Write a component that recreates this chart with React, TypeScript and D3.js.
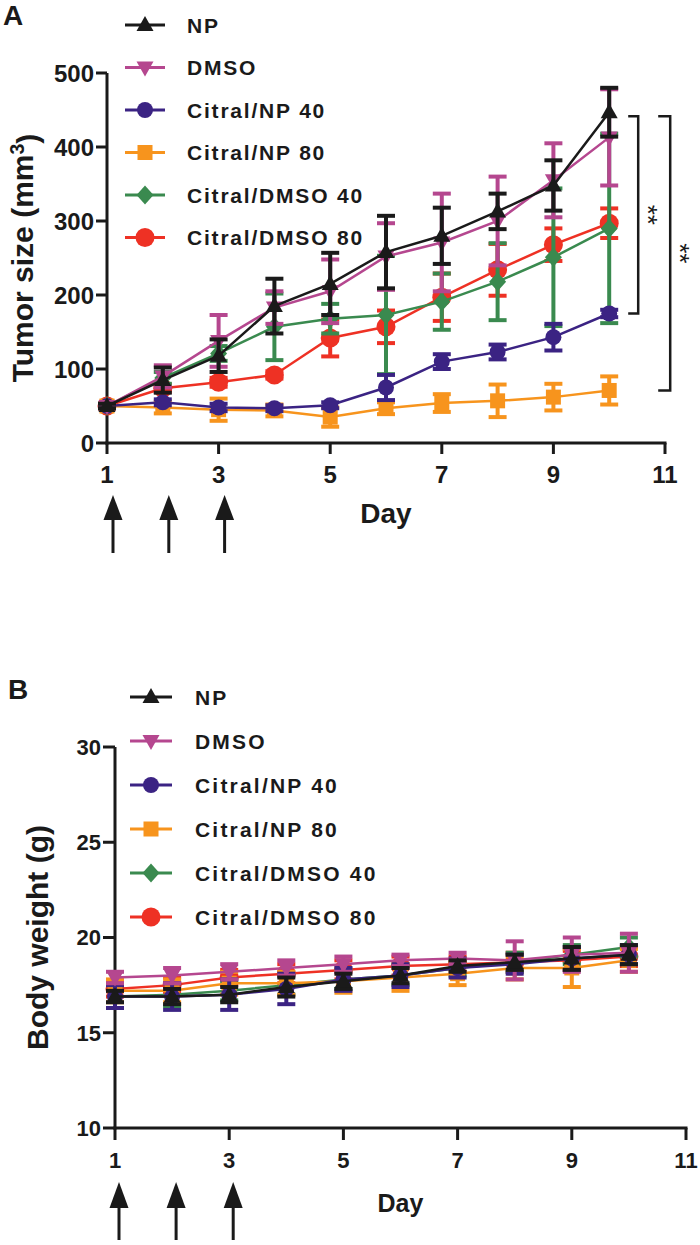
import React from 'react';
import * as d3 from 'd3';

// ---------- data ----------
const days = [1, 2, 3, 4, 5, 6, 7, 8, 9, 10];
const seriesNames = ['NP', 'DMSO', 'Citral/NP 40', 'Citral/NP 80', 'Citral/DMSO 40', 'Citral/DMSO 80'];
const seriesColors = ['#1a1a1a', '#b5478f', '#3b2383', '#f7941d', '#3a8a4f', '#ee3124'];
const seriesShapes = ['up', 'down', 'circle', 'square', 'diamond', 'circleL'];

// Panel A: tumor size (mm3)
const tumorNP = [50, 85, 118, 185, 215, 258, 280, 313, 348, 447];
const tumorNPErr = [3, 17, 22, 37, 42, 49, 38, 24, 34, 33];
const tumorDMSO = [50, 90, 138, 183, 205, 252, 271, 300, 355, 413];
const tumorDMSOErr = [3, 15, 35, 22, 43, 45, 66, 60, 50, 65];
const tumorCNP40 = [50, 55, 48, 47, 51, 75, 110, 123, 143, 175];
const tumorCNP40Err = [3, 4, 5, 4, 4, 17, 10, 10, 18, 5];
const tumorCNP80 = [50, 48, 45, 44, 35, 47, 54, 57, 62, 71];
const tumorCNP80Err = [3, 8, 15, 8, 13, 8, 12, 22, 18, 19];
const tumorCD40 = [50, 88, 121, 157, 168, 173, 191, 218, 251, 290];
const tumorCD40Err = [3, 8, 10, 45, 20, 80, 38, 52, 93, 128];
const tumorCD80 = [50, 74, 82, 92, 142, 157, 197, 234, 268, 297];
const tumorCD80Err = [3, 5, 6, 5, 25, 22, 32, 35, 22, 20];

// Panel B: body weight (g)
const weightNP = [16.9, 16.9, 17.0, 17.4, 17.7, 18.0, 18.5, 18.7, 18.9, 19.1];
const weightNPErr = [0.3, 0.4, 0.4, 0.5, 0.4, 0.4, 0.3, 0.4, 0.6, 0.5];
const weightDMSO = [17.9, 18.0, 18.2, 18.4, 18.6, 18.8, 18.9, 18.8, 19.1, 19.2];
const weightDMSOErr = [0.3, 0.4, 0.4, 0.4, 0.4, 0.3, 0.3, 1.0, 0.9, 1.0];
const weightCNP40 = [16.9, 16.9, 17.0, 17.3, 17.8, 18.0, 18.4, 18.6, 18.9, 19.1];
const weightCNP40Err = [0.6, 0.7, 0.8, 0.8, 0.6, 0.6, 0.5, 0.5, 0.6, 0.5];
const weightCNP80 = [17.2, 17.2, 17.6, 17.6, 17.7, 17.9, 18.1, 18.4, 18.4, 18.8];
const weightCNP80Err = [0.6, 0.6, 0.6, 0.6, 0.6, 0.7, 0.6, 0.6, 1.0, 0.6];
const weightCD40 = [16.9, 17.0, 17.2, 17.5, 17.8, 18.0, 18.4, 18.7, 19.1, 19.5];
const weightCD40Err = [0.6, 0.6, 0.5, 0.5, 0.5, 0.5, 0.4, 0.5, 0.5, 0.5];
const weightCD80 = [17.3, 17.5, 17.9, 18.1, 18.3, 18.5, 18.6, 18.7, 18.8, 19.0];
const weightCD80Err = [0.4, 0.4, 0.4, 0.5, 0.5, 0.5, 0.4, 0.5, 0.5, 0.5];

const xTicks = [1, 3, 5, 7, 9, 11];
const tumorTicks = [0, 100, 200, 300, 400, 500];
const weightTicks = [10, 15, 20, 25, 30];
const injectionDays = [1, 2, 3];

const FONT = '"Liberation Sans", Arial, Helvetica, sans-serif';

type Series = { name: string; color: string; shape: string; values: number[]; errs: number[] };

function buildSeries(vals: number[][], errs: number[][]): Series[] {
  return seriesNames.map((n, i) => ({ name: n, color: seriesColors[i], shape: seriesShapes[i], values: vals[i], errs: errs[i] }));
}

const tumorSeries = buildSeries(
  [tumorNP, tumorDMSO, tumorCNP40, tumorCNP80, tumorCD40, tumorCD80],
  [tumorNPErr, tumorDMSOErr, tumorCNP40Err, tumorCNP80Err, tumorCD40Err, tumorCD80Err]
);
const weightSeries = buildSeries(
  [weightNP, weightDMSO, weightCNP40, weightCNP80, weightCD40, weightCD80],
  [weightNPErr, weightDMSOErr, weightCNP40Err, weightCNP80Err, weightCD40Err, weightCD80Err]
);

function Marker({ shape, x, y, color }: { shape: string; x: number; y: number; color: string }) {
  switch (shape) {
    case 'up':
      return <path d={`M${x},${y - 9}L${x + 8.5},${y + 6}L${x - 8.5},${y + 6}Z`} fill={color} />;
    case 'down':
      return <path d={`M${x},${y + 9}L${x + 8.5},${y - 6}L${x - 8.5},${y - 6}Z`} fill={color} />;
    case 'circle':
      return <circle cx={x} cy={y} r={8} fill={color} />;
    case 'square':
      return <rect x={x - 7.5} y={y - 7.5} width={15} height={15} fill={color} />;
    case 'diamond':
      return <path d={`M${x},${y - 9.5}L${x + 8.5},${y}L${x},${y + 9.5}L${x - 8.5},${y}Z`} fill={color} />;
    default:
      return <circle cx={x} cy={y} r={9.5} fill={color} />;
  }
}

type PanelProps = {
  series: Series[];
  xRange: [number, number];
  yDomain: [number, number];
  yRange: [number, number];
  yTicks: number[];
  tickFont: number;
  tickLen: number;
  yTitle: React.ReactNode;
  yTitleX: number;
  yTitleFont: number;
  dayFont: number;
  dayBaseline: number;
  legendTop: number;
  legendStep: number;
  legendLineX: [number, number];
  legendTextX: number;
  legendSpacing: number;
  panelLabel: string;
  panelLabelX: number;
  panelLabelY: number;
  arrowOffset: number;
  arrowTop: number;
  arrowHeadH: number;
  arrowBottom: number;
  brackets?: boolean;
};

function Panel(p: PanelProps) {
  const x = d3.scaleLinear().domain([1, 11]).range(p.xRange);
  const y = d3.scaleLinear().domain(p.yDomain).range(p.yRange);
  const line = d3
    .line<number>()
    .x((_, i) => x(days[i]))
    .y((v) => y(v));
  const capW = 9;
  const order = [...p.series].reverse();
  const axisY = y(p.yDomain[0]);
  const axisX = x(1);
  const yMid = (p.yRange[0] + p.yRange[1]) / 2;

  return (
    <g fontFamily={FONT} fontWeight="bold" fill="#1a1a1a">
      <text x={p.panelLabelX} y={p.panelLabelY} fontSize={28}>{p.panelLabel}</text>

      {/* axes */}
      <line x1={axisX} x2={axisX} y1={p.yRange[0] + 1.5} y2={p.yRange[1]} stroke="#1a1a1a" strokeWidth={3} />
      <line x1={axisX - 1.5} x2={x(11) + 1.5} y1={axisY} y2={axisY} stroke="#1a1a1a" strokeWidth={3} />
      {p.yTicks.map((t) => (
        <g key={'yt' + t}>
          <line x1={axisX - p.tickLen} x2={axisX} y1={y(t)} y2={y(t)} stroke="#1a1a1a" strokeWidth={3} />
          <text x={axisX - p.tickLen - 2} y={y(t)} dy="0.36em" textAnchor="end" fontSize={p.tickFont}>{t}</text>
        </g>
      ))}
      {xTicks.map((t) => (
        <g key={'xt' + t}>
          <line x1={x(t)} x2={x(t)} y1={axisY} y2={axisY + p.tickLen} stroke="#1a1a1a" strokeWidth={3} />
          <text x={x(t)} y={axisY + 40} textAnchor="middle" fontSize={p.tickFont}>{t}</text>
        </g>
      ))}
      <text x={(x(5) + x(7)) / 2} y={p.dayBaseline} textAnchor="middle" fontSize={p.dayFont}>Day</text>
      <text transform={`translate(${p.yTitleX},${yMid}) rotate(-90)`} textAnchor="middle" fontSize={p.yTitleFont}>{p.yTitle}</text>

      {/* injection arrows */}
      {injectionDays.map((d) => {
        const ax = x(d) + p.arrowOffset;
        return (
          <g key={'ar' + d}>
            <line x1={ax} x2={ax} y1={p.arrowTop + p.arrowHeadH - 2} y2={p.arrowBottom} stroke="#1a1a1a" strokeWidth={3} />
            <path d={`M${ax},${p.arrowTop}L${ax + 9.5},${p.arrowTop + p.arrowHeadH}L${ax - 9.5},${p.arrowTop + p.arrowHeadH}Z`} fill="#1a1a1a" />
          </g>
        );
      })}

      {/* series */}
      {order.map((s) => (
        <g key={s.name}>
          {s.values.map((v, i) => {
            const cx = x(days[i]);
            const y1 = y(v + s.errs[i]);
            const y2 = y(v - s.errs[i]);
            return (
              <g key={i} stroke={s.color} strokeWidth={4}>
                <line x1={cx} x2={cx} y1={y1} y2={y2} />
                <line x1={cx - capW} x2={cx + capW} y1={y1} y2={y1} />
                <line x1={cx - capW} x2={cx + capW} y1={y2} y2={y2} />
              </g>
            );
          })}
          <path d={line(s.values) || ''} fill="none" stroke={s.color} strokeWidth={2.5} />
          {s.values.map((v, i) => (
            <Marker key={i} shape={s.shape} x={x(days[i])} y={y(v)} color={s.color} />
          ))}
        </g>
      ))}

      {/* legend */}
      {p.series.map((s, i) => {
        const ly = p.legendTop + i * p.legendStep;
        return (
          <g key={'lg' + s.name}>
            <line x1={p.legendLineX[0]} x2={p.legendLineX[1]} y1={ly} y2={ly} stroke={s.color} strokeWidth={3} />
            <Marker shape={s.shape} x={(p.legendLineX[0] + p.legendLineX[1]) / 2} y={ly} color={s.color} />
            <text x={p.legendTextX} y={ly} dy="0.36em" fontSize={21} letterSpacing={p.legendSpacing}>{s.name}</text>
          </g>
        );
      })}

      {/* significance brackets */}
      {p.brackets && (() => {
        const last = days.length - 1;
        const topY = y(p.series[0].values[last]) + 4;
        const b1Bottom = y(p.series[2].values[last]);
        const b2Bottom = y(p.series[3].values[last]);
        const bx1 = x(days[last]) + 29;
        const bx2 = x(days[last]) + 61;
        return (
          <g>
            <path d={`M${bx1 - 10},${topY}H${bx1}V${b1Bottom}H${bx1 - 10}`} fill="none" stroke="#1a1a1a" strokeWidth={2.5} />
            <path d={`M${bx2 - 12},${topY}H${bx2}V${b2Bottom}H${bx2 - 12}`} fill="none" stroke="#1a1a1a" strokeWidth={2.5} />
            <text transform={`translate(${bx1 + 1},${(topY + b1Bottom) / 2}) rotate(90)`} textAnchor="middle" fontSize={26} fontWeight="normal">**</text>
            <text transform={`translate(${bx2 + 1},${(topY + b2Bottom) / 2}) rotate(90)`} textAnchor="middle" fontSize={26} fontWeight="normal">**</text>
          </g>
        );
      })()}
    </g>
  );
}

export default function App() {
  return (
    <svg width={700} height={1245} style={{ position: 'absolute', left: 0, top: 0, background: '#fff' }}>
      <rect width={700} height={1245} fill="#fff" />
      <Panel
        series={tumorSeries}
        xRange={[107, 665]}
        yDomain={[0, 500]}
        yRange={[443, 73]}
        yTicks={tumorTicks}
        tickFont={24}
        tickLen={11}
        yTitle={<>Tumor size (mm<tspan dy="-0.45em" fontSize="0.65em">3</tspan><tspan dy="0.45em">)</tspan></>}
        yTitleX={33}
        yTitleFont={30}
        dayFont={28}
        dayBaseline={523}
        legendTop={25}
        legendStep={42.5}
        legendLineX={[125, 165]}
        legendTextX={187}
        legendSpacing={1.8}
        panelLabel="A"
        panelLabelX={3}
        panelLabelY={25}
        arrowOffset={6}
        arrowTop={495}
        arrowHeadH={25}
        arrowBottom={553}
        brackets
      />
      <Panel
        series={weightSeries}
        xRange={[115, 686]}
        yDomain={[10, 30]}
        yRange={[1128, 747]}
        yTicks={weightTicks}
        tickFont={22}
        tickLen={12}
        yTitle="Body weight (g)"
        yTitleX={48}
        yTitleFont={30}
        dayFont={25}
        dayBaseline={1212}
        legendTop={697}
        legendStep={44}
        legendLineX={[130, 172]}
        legendTextX={195}
        legendSpacing={2.2}
        panelLabel="B"
        panelLabelX={8}
        panelLabelY={699}
        arrowOffset={4}
        arrowTop={1182}
        arrowHeadH={26}
        arrowBottom={1240}
      />
    </svg>
  );
}
